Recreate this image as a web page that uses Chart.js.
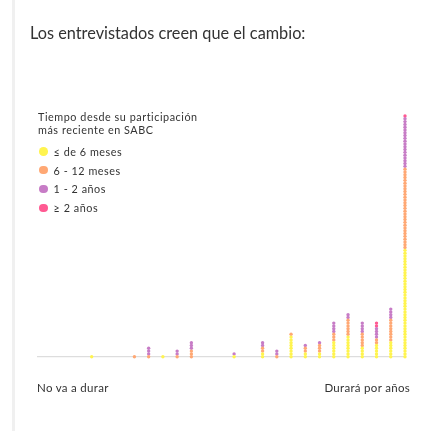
<!DOCTYPE html>
<html>
<head>
<meta charset="utf-8">
<script src="https://cdn.jsdelivr.net/npm/chart.js@4"></script>
<style>
  body { margin: 0; background: #fff; font-family: Lato, sans-serif; color: #333; }
  #wrap { position: relative; width: 432px; height: 431px; overflow: hidden; }
  #edge { position: absolute; left: 12px; top: 0; width: 3px; height: 431px; background: #f0f0f0; }
  #chart { position: absolute; left: 0; top: 0; }
  .txt { position: absolute; white-space: nowrap; }
  #title { left: 30px; top: 23px; font-size: 16.3px; }
  #legend { left: 38px; top: 111px; font-size: 10.8px; letter-spacing: 0.55px; }
  #legend .head { line-height: 12.5px; margin-bottom: 6px; }
  #legend .item { height: 18.8px; display: flex; align-items: center; }
  #legend .dot { width: 8.5px; height: 8.5px; border-radius: 50%; margin-right: 6px; margin-left: 1px; }
  #low, #high { top: 381px; font-size: 11.5px; letter-spacing: 0.3px; }
  #low { left: 37px; }
  #high { right: 22px; }
</style>
</head>
<body>
<div id="wrap">
  <div id="edge"></div>
  <canvas id="chart" width="432" height="431"></canvas>
  <div class="txt" id="title">Los entrevistados creen que el cambio:</div>
  <div class="txt" id="legend"></div>
  <div class="txt" id="low">No va a durar</div>
  <div class="txt" id="high">Durará por años</div>
</div>
<script>
// position of each column on the answer scale
const slots = [0, 3, 4, 5, 6, 7, 10, 12, 13, 14, 15, 16, 17, 18, 19, 20, 21, 22];

// number of answers (dots) per column, by time since last participation
const lessThan6m = [1, 0, 0, 1, 0, 0, 1, 2, 0, 8, 2, 2, 6, 8, 4, 5, 6, 39];
const from6to12m = [0, 1, 1, 0, 1, 3, 0, 2, 1, 1, 2, 3, 3, 6, 5, 2, 8, 29];
const from1to2y  = [0, 0, 3, 0, 2, 3, 1, 2, 2, 0, 1, 1, 4, 2, 4, 4, 4, 18];
const moreThan2y = [0, 0, 0, 0, 0, 0, 0, 0, 0, 0, 0, 0, 0, 0, 0, 2, 0, 1];

const seriesNames = ["≤ de 6 meses", "6 - 12 meses", "1 - 2 años", "≥ 2 años"];
const seriesColors = ["#fff44f", "#ffa874", "#c77cc6", "#ff5a92"];
const seriesCounts = [lessThan6m, from6to12m, from1to2y, moreThan2y];

// stack the dots of each column, one series on top of the other
const base = slots.map(() => 0);
const datasets = seriesCounts.map(function (counts, s) {
  const pts = [];
  counts.forEach(function (n, i) {
    for (let k = 0; k < n; k++) {
      pts.push({ x: slots[i], y: base[i] + k });
    }
    base[i] += n;
  });
  return {
    label: seriesNames[s],
    data: pts,
    backgroundColor: seriesColors[s],
    borderWidth: 0,
    pointRadius: 1.7,
    clip: false
  };
});

const legendBox = document.getElementById("legend");
legendBox.innerHTML = '<div class="head">Tiempo desde su participación<br>más reciente en SABC</div>' +
  seriesNames.map(function (name, i) {
    return '<div class="item"><span class="dot" style="background:' + seriesColors[i] + '"></span>' + name + '</div>';
  }).join("");

const baseline = {
  id: "baseline",
  beforeDatasetsDraw(chart) {
    const ctx = chart.ctx, area = chart.chartArea;
    const y = chart.scales.y.getPixelForValue(0);
    ctx.save();
    ctx.strokeStyle = "#d6d6d6";
    ctx.lineWidth = 1;
    ctx.beginPath();
    ctx.moveTo(area.left, y);
    ctx.lineTo(area.right, y);
    ctx.stroke();
    ctx.restore();
  }
};

new Chart(document.getElementById("chart"), {
  type: "scatter",
  data: { datasets: datasets },
  options: {
    responsive: false,
    animation: false,
    layout: { padding: { left: 37, right: 27, top: 60, bottom: 74.3 } },
    plugins: { legend: { display: false }, tooltip: { enabled: false } },
    scales: {
      x: { type: "linear", display: false, min: -3.84, max: 22 },
      y: { display: false, min: 0, max: 106 }
    }
  },
  plugins: [baseline]
});
</script>
</body>
</html>
